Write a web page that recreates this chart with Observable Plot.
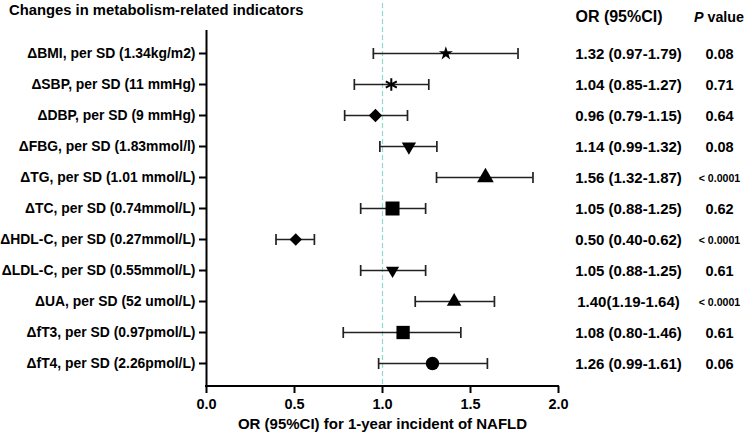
<!DOCTYPE html>
<html>
<head>
<meta charset="utf-8">
<script src="https://cdn.jsdelivr.net/npm/d3@7"></script>
<script src="https://cdn.jsdelivr.net/npm/@observablehq/plot@0.6"></script>
<style>
  html, body { margin: 0; padding: 0; background: #fff; }
  #chart { width: 749px; height: 438px; }
  svg { font-family: "Liberation Sans", Arial, sans-serif; }
</style>
</head>
<body>
<div id="chart"></div>
<script>
// ---- data ----
const labels = [
  "ΔBMI, per SD (1.34kg/m2)",
  "ΔSBP, per SD (11 mmHg)",
  "ΔDBP, per SD (9 mmHg)",
  "ΔFBG, per SD (1.83mmol/l)",
  "ΔTG, per SD (1.01 mmol/L)",
  "ΔTC, per SD (0.74mmol/L)",
  "ΔHDL-C, per SD (0.27mmol/L)",
  "ΔLDL-C, per SD (0.55mmol/L)",
  "ΔUA, per SD (52 umol/L)",
  "ΔfT3, per SD (0.97pmol/L)",
  "ΔfT4, per SD (2.26pmol/L)"
];
const estimates = [1.36, 1.05, 0.96, 1.15, 1.585, 1.057, 0.507, 1.057, 1.407, 1.117, 1.284];
const lowers    = [0.948, 0.84, 0.785, 0.985, 1.307, 0.876, 0.395, 0.876, 1.186, 0.777, 0.978];
const uppers    = [1.77, 1.263, 1.142, 1.309, 1.855, 1.245, 0.613, 1.245, 1.636, 1.445, 1.596];
const orTexts = [
  "1.32 (0.97-1.79)", "1.04 (0.85-1.27)", "0.96 (0.79-1.15)", "1.14 (0.99-1.32)",
  "1.56 (1.32-1.87)", "1.05 (0.88-1.25)", "0.50 (0.40-0.62)", "1.05 (0.88-1.25)",
  "1.40(1.19-1.64)", "1.08 (0.80-1.46)", "1.26 (0.99-1.61)"
];
const pTexts = ["0.08", "0.71", "0.64", "0.08", "< 0.0001", "0.62", "< 0.0001", "0.61", "< 0.0001", "0.61", "0.06"];
const xTicks = [0, 0.5, 1.0, 1.5, 2.0];
const refValue = [1];

// ---- styles (per row) ----
const triangleDown = {
  draw(context, size) {
    const y = -Math.sqrt(size / (3 * Math.sqrt(3)));
    context.moveTo(0, -2 * y);
    context.lineTo(-Math.sqrt(3) * y, y);
    context.lineTo(Math.sqrt(3) * y, y);
    context.closePath();
  }
};
const capSymbol = {
  draw(context) { context.moveTo(0, -5.5); context.lineTo(0, 5.5); }
};
const symbols = ["star", "asterisk", "diamond2", triangleDown, "triangle", "square", "diamond2", triangleDown, "triangle", "square", "circle"];
const sizes   = [4.4, 6, 6, 5.3, 6.2, 7.9, 5.6, 4.9, 5.4, 7.5, 6.7];

const rows = labels.map((label, i) => ({
  label, est: estimates[i], lo: lowers[i], hi: uppers[i],
  or: orTexts[i], p: pTexts[i], sym: symbols[i], r: sizes[i]
}));
const filled = rows.filter(d => d.sym !== "asterisk");
const stroked = rows.filter(d => d.sym === "asterisk");

const W = 749, H = 438;
const mL = 206, mR = 191, mT = 30, mB = 52;

const chart = Plot.plot({
  width: W, height: H,
  marginLeft: mL, marginRight: mR, marginTop: mT, marginBottom: mB,
  style: { fontFamily: "Liberation Sans, Arial, sans-serif", color: "#000", background: "#fff" },
  x: { domain: [0, 2], ticks: xTicks, tickFormat: d3.format(".1f") },
  y: { type: "point", domain: labels, padding: 0.66 },
  r: { type: "identity" },
  marks: [
    Plot.ruleX(refValue, { stroke: "#8fdccf", strokeWidth: 1.2, strokeDasharray: "5,3", insetTop: -27 }),
    Plot.ruleX([0], { stroke: "#000", strokeWidth: 2 }),
    Plot.axisX({ ticks: xTicks, tickFormat: d3.format(".1f"), tickSize: 7, tickPadding: 5, strokeWidth: 2, fontSize: 14.5, fontWeight: "bold", label: null }),
    Plot.axisY({ tickSize: 7, tickPadding: 4, strokeWidth: 2, fontSize: 13.9, fontWeight: "bold", label: null }),
    Plot.ruleY(rows, { y: "label", x1: "lo", x2: "hi", stroke: "#222", strokeWidth: 1.7 }),
    Plot.dot(rows, { x: "lo", y: "label", symbol: () => capSymbol, r: 5, stroke: "#222", strokeWidth: 1.7, fill: "none" }),
    Plot.dot(rows, { x: "hi", y: "label", symbol: () => capSymbol, r: 5, stroke: "#222", strokeWidth: 1.7, fill: "none" }),
    Plot.dot(filled, { x: "est", y: "label", symbol: "sym", r: "r", fill: "#000", stroke: "none" }),
    Plot.dot(stroked, { x: "est", y: "label", symbol: "sym", r: "r", fill: "none", stroke: "#000", strokeWidth: 2 }),
    Plot.text(rows, { y: "label", text: "or", frameAnchor: "right", dx: 70, dy: 1, textAnchor: "middle", fontSize: 15, fontWeight: "bold" }),
    Plot.text(rows, { y: "label", text: "p", frameAnchor: "right", dx: 161, dy: 1, textAnchor: "middle", fontSize: d => d.p.startsWith("<") ? 10.6 : 14.5, fontWeight: "bold" }),
    Plot.text(["OR (95%CI) for 1-year incident of NAFLD"], { frameAnchor: "bottom", dy: 42, fontSize: 15, fontWeight: "bold" })
  ]
});
document.getElementById("chart").appendChild(chart);

// axis line and header texts
const svg = d3.select(chart);
const xs = chart.scale("x");
svg.append("line")
  .attr("x1", xs.apply(0) - 1).attr("x2", xs.apply(2) + 1)
  .attr("y1", H - mB).attr("y2", H - mB)
  .attr("stroke", "#000").attr("stroke-width", 2);
svg.append("text").attr("x", 9).attr("y", 15).attr("text-anchor", "start")
  .attr("font-size", 14.8).attr("font-weight", "bold").attr("fill", "#000")
  .text("Changes in metabolism-related indicators");
svg.append("text").attr("x", 619).attr("y", 22).attr("text-anchor", "middle")
  .attr("font-size", 16).attr("font-weight", "bold").attr("fill", "#000")
  .text("OR (95%CI)");
const pv = svg.append("text").attr("x", 719).attr("y", 22).attr("text-anchor", "middle")
  .attr("font-size", 14.3).attr("font-weight", "bold").attr("fill", "#000");
pv.append("tspan").attr("font-style", "italic").text("P");
pv.append("tspan").text(" value");
</script>
</body>
</html>
